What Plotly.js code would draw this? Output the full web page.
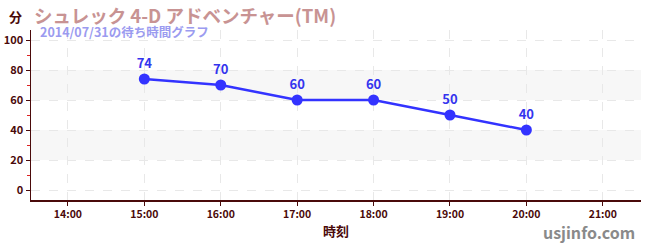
<!DOCTYPE html>
<html><head><meta charset="utf-8">
<script src="https://cdn.plot.ly/plotly-3.0.1.min.js"></script>
<style>body{margin:0;padding:0;background:#fff}#c{width:650px;height:250px}</style>
</head><body><div id="c"></div>
<script>
const times = ['2014-07-31 15:00','2014-07-31 16:00','2014-07-31 17:00','2014-07-31 18:00','2014-07-31 19:00','2014-07-31 20:00'];
const waits = [74, 70, 60, 60, 50, 40];
const tickVals = ['2014-07-31 14:00','2014-07-31 15:00','2014-07-31 16:00','2014-07-31 17:00','2014-07-31 18:00','2014-07-31 19:00','2014-07-31 20:00','2014-07-31 21:00'];
const tickText = ['14:00','15:00','16:00','17:00','18:00','19:00','20:00','21:00'];
const bands = [[20,40],[60,80]];
const titleText = 'シュレック 4-D アドベンチャー(TM)';
const subtitleText = '2014/07/31の待ち時間グラフ';

const F = '"Noto Sans CJK JP", "Noto Sans", sans-serif';
const dark = '#4a0a0a';
const trace = {
  x: times, y: waits, type: 'scatter', mode: 'lines+markers+text',
  text: waits.map(String), textposition: 'top center',
  textfont: {family: F, size: 13, color: '#3434ee', weight: 'bold'},
  line: {color: '#3333ff', width: 2.5},
  marker: {color: '#3333ff', size: 11},
  hoverinfo: 'none', cliponaxis: false
};
const shapes = bands.map(b => ({type:'rect', xref:'paper', x0:0, x1:1, yref:'y', y0:b[0], y1:b[1], fillcolor:'#f7f7f7', line:{width:0}, layer:'below'}));
const layout = {
  width: 650, height: 250,
  margin: {l: 31, r: 9, t: 30, b: 50},
  paper_bgcolor: '#fff', plot_bgcolor: '#fff',
  showlegend: false,
  font: {family: F, color: dark},
  shapes: shapes,
  xaxis: {
    type: 'date', range: ['2014-07-31 13:31','2014-07-31 21:30'],
    tickvals: tickVals, ticktext: tickText,
    tickfont: {family: F, size: 10.5, color: dark, weight: 'bold'},
    ticks: 'outside', ticklen: 4, tickcolor: dark,
    showline: true, linecolor: dark, linewidth: 1.5,
    showgrid: true, gridcolor: '#e8e8e8', griddash: 'dash', gridwidth: 1,
    zeroline: false,
    title: {text: '時刻', font: {family: F, size: 13, color: dark, weight: 'bold'}, standoff: 7}
  },
  yaxis: {
    range: [-6.67, 106.67],
    tickvals: [0,20,40,60,80,100],
    tickfont: {family: F, size: 11, color: dark, weight: 'bold'},
    ticks: 'outside', ticklen: 4, tickcolor: dark,
    minor: {tickvals: [10,30,50,70,90], ticks: 'outside', ticklen: 3, tickcolor: '#dd2222', showgrid: false},
    showline: true, linecolor: dark, linewidth: 1.5,
    showgrid: true, gridcolor: '#e8e8e8', griddash: 'dash', gridwidth: 1,
    zeroline: false
  },
  annotations: [
    {xref:'paper', yref:'paper', x:-0.026, y:1.082, xanchor:'center', yanchor:'middle', text:'<b>分</b>', showarrow:false, font:{family:F, size:13, color:dark}},
    {xref:'paper', yref:'paper', x:0.0, y:1.086, xanchor:'left', yanchor:'middle', xshift:1, text:'<b>'+titleText+'</b>', showarrow:false, font:{family:F, size:18.5, color:'#c89393'}},
    {xref:'paper', yref:'paper', x:0.0, y:0.994, xanchor:'left', yanchor:'middle', xshift:7, text:'<b>'+subtitleText+'</b>', showarrow:false, font:{family:F, size:12.5, color:'#9b9bf0'}},
    {xref:'paper', yref:'paper', x:1.0, y:-0.19, xanchor:'right', yanchor:'middle', xshift:-4, text:'<b>usjinfo.com</b>', showarrow:false, font:{family:F, size:16, color:'#8a8a8a'}}
  ]
};
Plotly.newPlot('c', [trace], layout, {displayModeBar: false, staticPlot: true});
</script></body></html>
